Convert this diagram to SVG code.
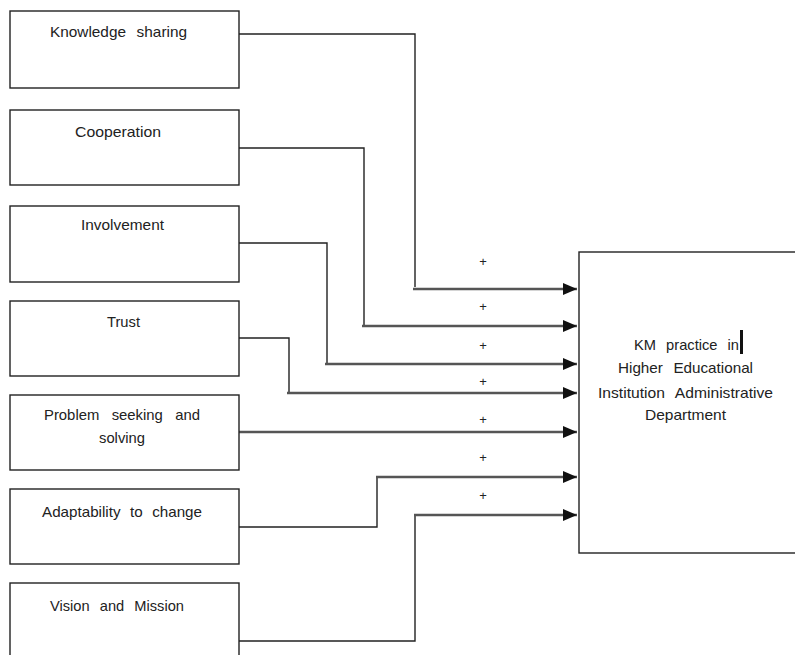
<svg xmlns="http://www.w3.org/2000/svg" width="795" height="655" viewBox="0 0 795 655">
<defs>
<style>
.box{fill:#fff;stroke:#222;stroke-width:1.4}
.t{font-family:"Liberation Sans",Arial,sans-serif;font-size:14.5px;fill:#222}
.w{fill:none;stroke:#222;stroke-width:1.4}
.a{fill:none;stroke:#555;stroke-width:2.4;marker-end:url(#ah)}
.p{font-family:"Liberation Sans",Arial,sans-serif;font-size:13px;fill:#222;text-anchor:middle}
</style>
<marker id="ah" markerUnits="userSpaceOnUse" markerWidth="14" markerHeight="12" viewBox="0 0 14 12" refX="14" refY="6" orient="auto">
<path d="M0,0 L14,6 L0,12 Z" fill="#111"/>
</marker>
</defs>
<rect width="795" height="655" fill="#fff"/>
<g id="connectors">
<polyline class="w" points="239,34 415,34 415,287"/>
<line class="a" x1="413" y1="289" x2="577" y2="289"/>
<polyline class="w" points="239,148 364,148 364,325"/>
<line class="a" x1="362" y1="326" x2="577" y2="326"/>
<polyline class="w" points="239,243 327,243 327,363"/>
<line class="a" x1="325" y1="364" x2="577" y2="364"/>
<polyline class="w" points="239,338 289,338 289,392"/>
<line class="a" x1="287" y1="393" x2="577" y2="393"/>
<line class="a" x1="237" y1="432" x2="577" y2="432"/>
<polyline class="w" points="239,527 377,527 377,478"/>
<line class="a" x1="376" y1="477" x2="577" y2="477"/>
<polyline class="w" points="239,641 415,641 415,516"/>
<line class="a" x1="414" y1="515" x2="577" y2="515"/>
<text class="p" x="483" y="266">+</text>
<text class="p" x="483" y="311">+</text>
<text class="p" x="483" y="350">+</text>
<text class="p" x="483" y="386">+</text>
<text class="p" x="483" y="424">+</text>
<text class="p" x="483" y="462">+</text>
<text class="p" x="483" y="500">+</text>
</g>
<g id="n1">
<rect class="box" x="10" y="11" width="229" height="77"/>
<text class="t" x="50" y="37" textLength="137" lengthAdjust="spacingAndGlyphs" word-spacing="6">Knowledge sharing</text>
</g>
<g id="n2">
<rect class="box" x="10" y="110" width="229" height="75"/>
<text class="t" x="75" y="137" textLength="86" lengthAdjust="spacingAndGlyphs">Cooperation</text>
</g>
<g id="n3">
<rect class="box" x="10" y="206" width="229" height="76"/>
<text class="t" x="81" y="230" textLength="83" lengthAdjust="spacingAndGlyphs">Involvement</text>
</g>
<g id="n4">
<rect class="box" x="10" y="301" width="229" height="75"/>
<text class="t" x="107" y="327" textLength="33" lengthAdjust="spacingAndGlyphs">Trust</text>
</g>
<g id="n5">
<rect class="box" x="10" y="395" width="229" height="75"/>
<text class="t" x="44" y="420" textLength="156" lengthAdjust="spacingAndGlyphs" word-spacing="8">Problem seeking and</text>
<text class="t" x="99" y="443" textLength="46" lengthAdjust="spacingAndGlyphs">solving</text>
</g>
<g id="n6">
<rect class="box" x="10" y="489" width="229" height="75"/>
<text class="t" x="42" y="517" textLength="160" lengthAdjust="spacingAndGlyphs" word-spacing="5">Adaptability to change</text>
</g>
<g id="n7">
<rect class="box" x="10" y="583" width="229" height="90"/>
<text class="t" x="50" y="611" textLength="134" lengthAdjust="spacingAndGlyphs" word-spacing="6">Vision and Mission</text>
</g>
<g id="target">
<rect class="box" x="579" y="252" width="240" height="301"/>
<text class="t" x="634" y="350" textLength="105" lengthAdjust="spacingAndGlyphs" word-spacing="6">KM practice in</text>
<rect x="740" y="330" width="3" height="24" fill="#111"/>
<text class="t" x="618" y="373" textLength="135" lengthAdjust="spacingAndGlyphs" word-spacing="6">Higher Educational</text>
<text class="t" x="598" y="398" textLength="175" lengthAdjust="spacingAndGlyphs" word-spacing="6">Institution Administrative</text>
<text class="t" x="645" y="420" textLength="81" lengthAdjust="spacingAndGlyphs">Department</text>
</g>
</svg>
